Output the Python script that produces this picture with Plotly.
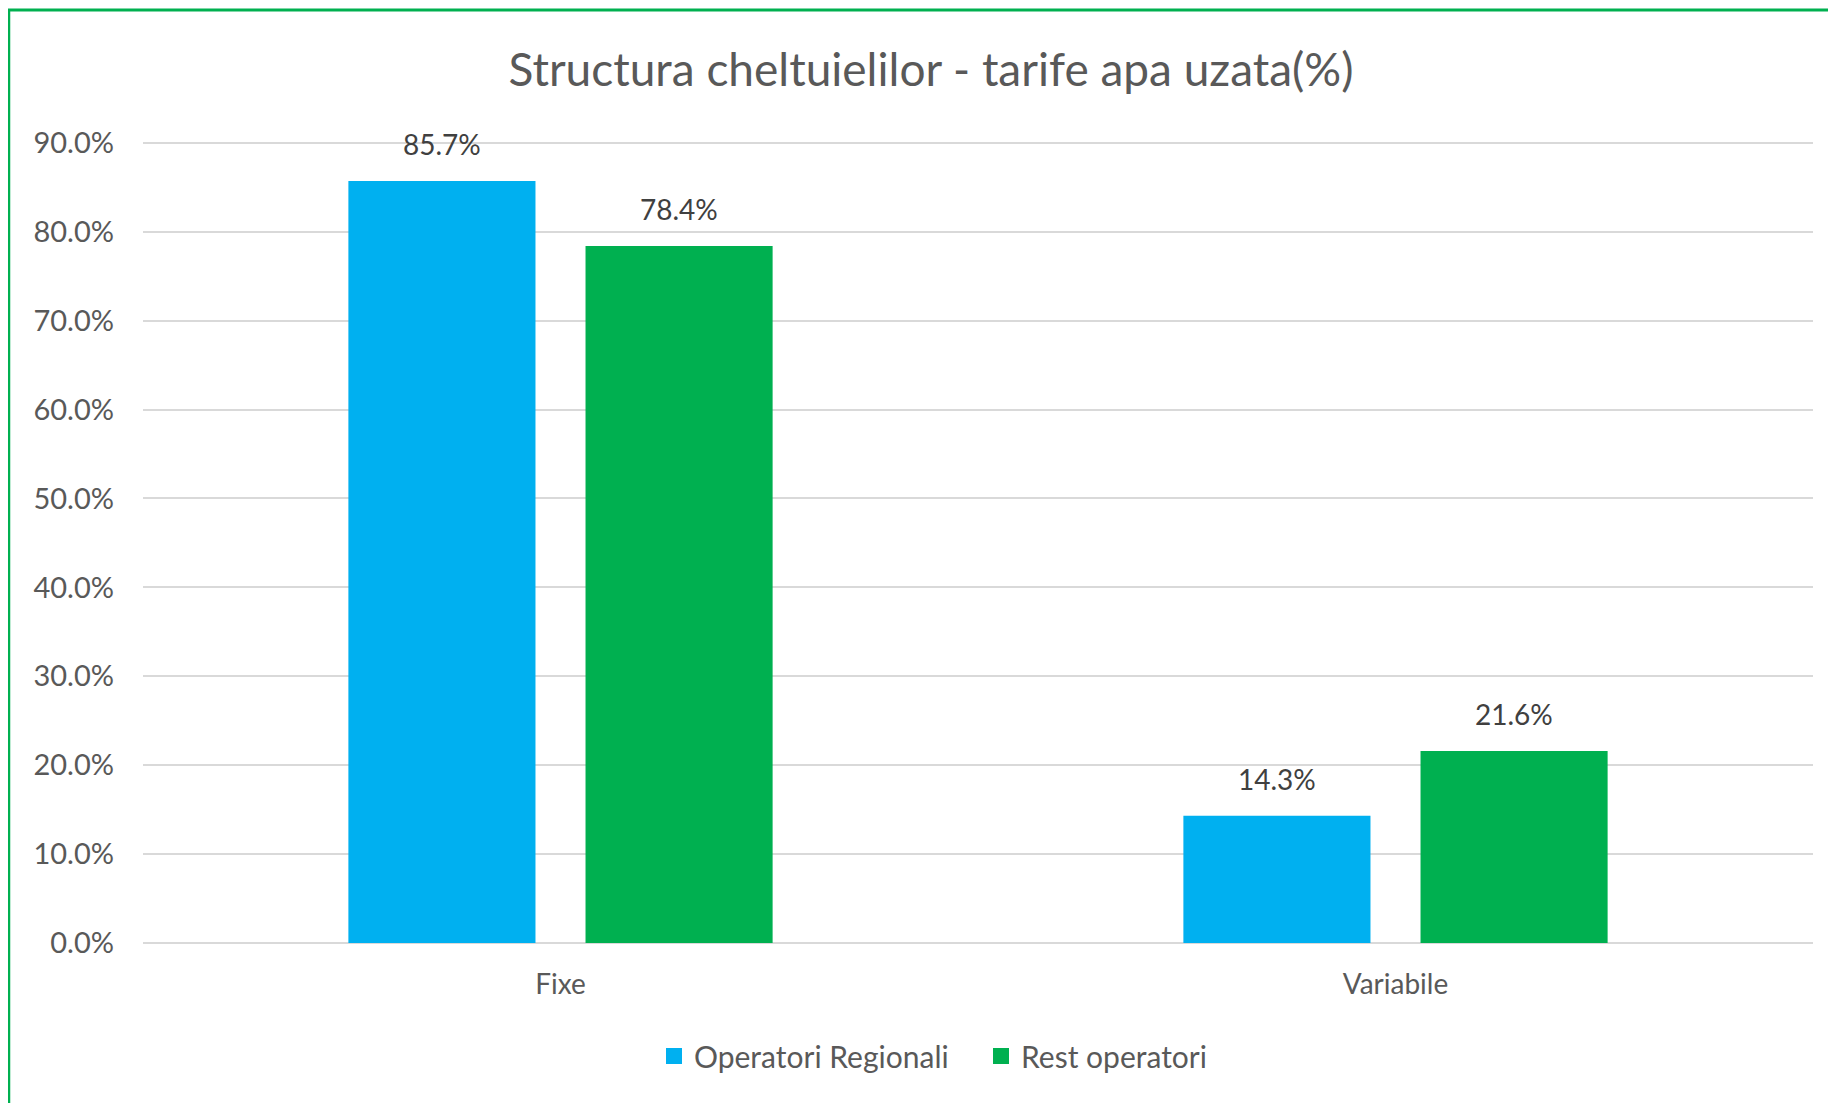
import plotly.graph_objects as go

categories = ["Fixe", "Variabile"]
series_names = ["Operatori Regionali", "Rest operatori"]
operatori_regionali = [85.7, 14.3]
rest_operatori = [78.4, 21.6]
y_ticks = [0, 10, 20, 30, 40, 50, 60, 70, 80, 90]

W, H = 1836, 1103
OFF = 8  # page body margin offset
# plot area in page pixels: left 143, right 1813, top(90%) 143, bottom(0%) 943
Y_MAX = 90.2
ML = 143 - OFF
MR = W - (1813 - OFF)
MB = H - (943 - OFF)
PX_PER_UNIT = 800 / 90
MT = int(round(143 - OFF - (Y_MAX - 90) * PX_PER_UNIT))
FONT = "Lato"
blue = "#00B0F0"
green = "#00B050"

fig = go.Figure()
fig.add_trace(go.Bar(name=series_names[0], x=categories, y=operatori_regionali,
                     marker=dict(color=blue, line=dict(width=0)), showlegend=False))
fig.add_trace(go.Bar(name=series_names[1], x=categories, y=rest_operatori,
                     marker=dict(color=green, line=dict(width=0)), showlegend=False))
# legend entries with larger square keys
for name, col in zip(series_names, [blue, green]):
    fig.add_trace(go.Scatter(name=name, x=[categories[0]], y=[None], mode="markers",
                             marker=dict(symbol="square", size=18, color=col),
                             showlegend=True))

plot_w = W - ML - MR
plot_h = H - MT - MB
cat_w = plot_w / len(categories)
bargap = 0.432
slot = (1 - bargap) * cat_w / 2
for i, vals in enumerate([operatori_regionali, rest_operatori]):
    shift = (i - 0.5) * slot
    for c, v in zip(categories, vals):
        fig.add_annotation(x=c, y=v, xref="x", yref="y", text=f"{v:.1f}%",
                           showarrow=False, xshift=shift, yshift=18, yanchor="bottom",
                           font=dict(family=FONT, size=28, color="#404040"))

def px_x(px):
    return (px - OFF - ML) / plot_w
def px_y(py):
    return (H - MB - (py - OFF)) / plot_h

# green frame (left and top edges)
fig.add_shape(type="line", xref="paper", yref="paper",
              x0=px_x(9), x1=px_x(9), y0=px_y(10), y1=px_y(H + 20),
              line=dict(color=green, width=2.5))
fig.add_shape(type="line", xref="paper", yref="paper",
              x0=px_x(8), x1=px_x(W + 20), y0=px_y(10), y1=px_y(10),
              line=dict(color=green, width=3))

fig.update_layout(
    width=W, height=H,
    margin=dict(l=ML, r=MR, t=MT, b=MB, autoexpand=False),
    paper_bgcolor="white", plot_bgcolor="white",
    barmode="group", bargap=bargap, bargroupgap=0.211,
    title=dict(text="Structura cheltuielilor - tarife apa uzata(%)",
               x=(931 - OFF) / W, xanchor="center", y=1 - (70 - OFF) / H, yanchor="middle",
               font=dict(family=FONT, size=46, color="#595959")),
    font=dict(family=FONT, color="#595959"),
    showlegend=True,
    legend=dict(orientation="h", x=px_x(981), xanchor="center",
                y=px_y(1056), yanchor="middle",
                font=dict(family=FONT, size=30, color="#595959"),
                itemwidth=30, traceorder="normal",
                entrywidth=282, entrywidthmode="pixels"),
    hovermode=False,
)
fig.update_xaxes(showgrid=False, showline=False, ticks="",
                 tickfont=dict(family=FONT, size=28, color="#595959"),
                 ticklabelstandoff=22)
fig.update_yaxes(range=[0, Y_MAX], tickvals=y_ticks,
                 ticktext=[f"{t:.1f}%" for t in y_ticks],
                 showgrid=True, gridcolor="#D9D9D9", gridwidth=2,
                 zeroline=True, zerolinecolor="#D9D9D9", zerolinewidth=2,
                 showline=False, ticks="",
                 tickfont=dict(family=FONT, size=29, color="#595959"),
                 ticklabelstandoff=28)

fig.write_html("out.html")
